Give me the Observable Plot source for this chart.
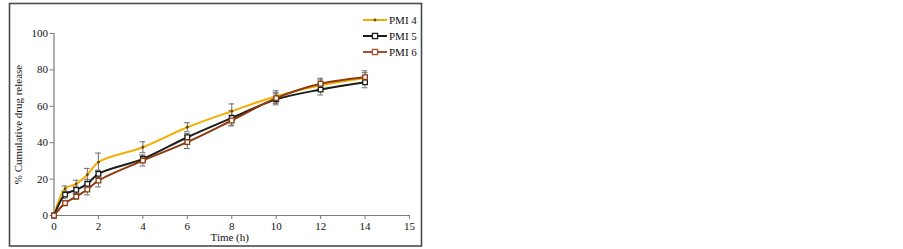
<!DOCTYPE html>
<html>
<head>
<meta charset="utf-8">
<script src="https://cdn.jsdelivr.net/npm/d3@7"></script>
<script src="https://cdn.jsdelivr.net/npm/@observablehq/plot@0.6"></script>
<style>
  html, body { margin: 0; padding: 0; background: #fff; }
  #chart { position: relative; width: 903px; height: 249px; }
</style>
</head>
<body>
<div id="chart"></div>
<script>
const time = [0, 0.5, 1, 1.5, 2, 4, 6, 8, 10, 12, 14];
const seriesNames = ["PMI 4", "PMI 5", "PMI 6"];
const pmi4 = [0, 14.7, 17.4, 22.4, 29.3, 37.5, 48.5, 57.3, 65.5, 71.5, 75.5];
const pmi5 = [0, 11.5, 14.1, 17.4, 22.9, 31.1, 43.0, 53.6, 63.8, 69.2, 73.2];
const pmi6 = [0, 6.8, 10.4, 14.3, 19.2, 30.2, 40.3, 52.2, 64.5, 72.4, 76.0];
const err4 = [0, 1.5, 2.0, 3.5, 5.0, 3.0, 2.5, 4.0, 3.0, 3.0, 3.0];
const err5 = [0, 2.0, 2.0, 2.5, 2.0, 2.0, 2.0, 4.0, 3.0, 3.0, 3.0];
const err6 = [0, 1.5, 1.5, 3.0, 3.5, 3.0, 3.5, 3.0, 3.0, 3.0, 3.5];
const xTicks = [0, 2, 4, 6, 8, 10, 12, 14, 16];
const xTickLabels = ["0", "2", "4", "6", "8", "10", "12", "14", "15"];
const yTicks = [0, 20, 40, 60, 80, 100];

const colors = {"PMI 4": "#F5AE00", "PMI 5": "#1c1c1c", "PMI 6": "#8E3A0C"};
const vals = {"PMI 4": pmi4, "PMI 5": pmi5, "PMI 6": pmi6};
const errs = {"PMI 4": err4, "PMI 5": err5, "PMI 6": err6};

const data = [];
for (const s of seriesNames) {
  time.forEach((t, i) => data.push({series: s, x: t, y: vals[s][i], e: errs[s][i]}));
}
const labelMap = new Map(xTicks.map((t, i) => [t, xTickLabels[i]]));
const capHalf = 0.13;
const axisGray = "#7a7a7a";
const errGray = "#6e6e6e";
const fontFam = "'Liberation Serif', 'Times New Roman', serif";

const marks = [
  Plot.ruleX([0], {stroke: axisGray, strokeWidth: 1.2}),
  Plot.ruleY([0], {stroke: axisGray, strokeWidth: 1.2}),
  Plot.axisY({ticks: yTicks, tickSize: 4, tickPadding: 2, stroke: axisGray, label: null, fill: "#111"}),
  Plot.axisX({ticks: xTicks, tickSize: 4, tickPadding: 3, stroke: axisGray, label: null, fill: "#111",
              tickFormat: d => labelMap.get(d)}),
];
for (const s of seriesNames) {
  const d = data.filter(r => r.series === s && r.e > 0);
  marks.push(
    Plot.ruleX(d, {x: "x", y1: r => r.y - r.e, y2: r => r.y + r.e, stroke: errGray, strokeWidth: 1}),
    Plot.ruleY(d, {y: r => r.y + r.e, x1: r => r.x - capHalf, x2: r => r.x + capHalf, stroke: errGray, strokeWidth: 1}),
    Plot.ruleY(d, {y: r => r.y - r.e, x1: r => r.x - capHalf, x2: r => r.x + capHalf, stroke: errGray, strokeWidth: 1})
  );
}
for (const s of seriesNames) {
  const d = data.filter(r => r.series === s);
  marks.push(Plot.line(d, {x: "x", y: "y", stroke: colors[s], strokeWidth: 2, curve: "catmull-rom"}));
  if (s === "PMI 4") {
    marks.push(Plot.dot(d, {x: "x", y: "y", r: 1.4, fill: "#6b4a00", stroke: "none"}));
  } else {
    marks.push(Plot.dot(d, {x: "x", y: "y", symbol: "square", r: 2.6, fill: "white", stroke: colors[s], strokeWidth: 1.3}));
  }
}
marks.push(
  Plot.text(["Time (h)"], {frameAnchor: "bottom", dy: 25.5, text: d => d, fontSize: 11, fill: "#111", dx: -2, textAnchor: "middle"}),
  Plot.text(["% Cumulative drug release"], {frameAnchor: "left", dx: -36, rotate: -90, text: d => d, fontSize: 11, fill: "#111", textAnchor: "middle"})
);

const chart = Plot.plot({
  width: 903,
  height: 249,
  marginLeft: 53.5,
  marginRight: 494,
  marginTop: 33,
  marginBottom: 34,
  x: {domain: [0, 16]},
  y: {domain: [0, 100]},
  style: {fontFamily: fontFam, fontSize: "11px", color: "#111", background: "white", overflow: "visible"},
  marks
});

const svg = d3.select(chart);
svg.append("rect")
  .attr("x", 9.5).attr("y", 3.5).attr("width", 412).attr("height", 242.5)
  .attr("fill", "none").attr("stroke", "#4a4a4a").attr("stroke-width", 1.6);

const lg = svg.append("g").attr("font-family", fontFam).attr("font-size", "11px").attr("text-anchor", "start");
const legendY = [20, 36, 52];
seriesNames.forEach((s, i) => {
  const y = legendY[i];
  const col = s === "PMI 6" ? "#A0522D" : colors[s];
  lg.append("line").attr("x1", 363).attr("x2", 387).attr("y1", y).attr("y2", y).attr("stroke", col).attr("stroke-width", 2);
  if (s === "PMI 4") {
    lg.append("circle").attr("cx", 375).attr("cy", y).attr("r", 1.4).attr("fill", "#6b4a00");
  } else {
    lg.append("rect").attr("x", 372.4).attr("y", y - 2.6).attr("width", 5.2).attr("height", 5.2)
      .attr("fill", "white").attr("stroke", col).attr("stroke-width", 1.3);
  }
  lg.append("text").attr("x", 389).attr("y", y).attr("dy", "0.35em").attr("fill", "#111").attr("text-anchor", "start").text(s);
});

document.getElementById("chart").appendChild(chart);
</script>
</body>
</html>
